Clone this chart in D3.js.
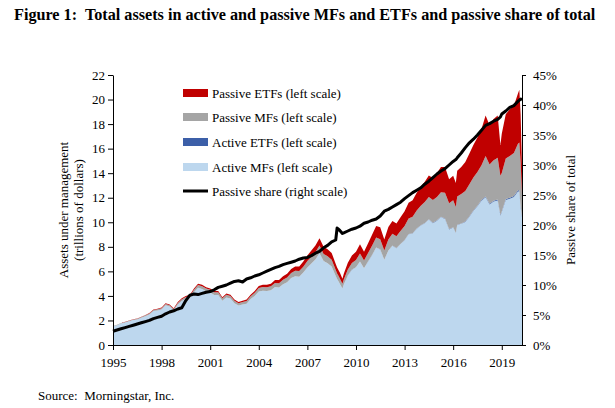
<!DOCTYPE html>
<html><head><meta charset="utf-8">
<script src="https://cdn.jsdelivr.net/npm/d3@7"></script>
<style>
html,body{margin:0;padding:0;background:#fff;}
text{font-family:"Liberation Serif","Times New Roman",serif;fill:#000;}
</style></head>
<body><svg id="c" width="615" height="408"></svg>
<script>
// ---- data (trillions of dollars; share in %) ----
const dates = ["1995-01","1995-04","1995-07","1995-10","1996-01","1996-04","1996-07","1996-10",
"1997-01","1997-04","1997-07","1997-10","1998-01","1998-04","1998-07","1998-10",
"1999-01","1999-04","1999-07","1999-10","2000-01","2000-04","2000-07","2000-10",
"2001-01","2001-04","2001-07","2001-10","2002-01","2002-04","2002-07","2002-10",
"2003-01","2003-04","2003-07","2003-10","2004-01","2004-04","2004-07","2004-10",
"2005-01","2005-04","2005-07","2005-10","2006-01","2006-04","2006-07","2006-10",
"2007-01","2007-04","2007-07","2007-10","2008-01","2008-04","2008-07","2008-10","2008-11","2008-12",
"2009-01","2009-03","2009-04","2009-07","2009-10","2010-01","2010-04","2010-07","2010-10",
"2011-01","2011-04","2011-07","2011-10","2012-01","2012-04","2012-07","2012-10",
"2013-01","2013-04","2013-07","2013-10","2014-01","2014-04","2014-07","2014-10",
"2015-01","2015-04","2015-07","2015-10","2016-01","2016-03","2016-04","2016-07","2016-10",
"2017-01","2017-04","2017-07","2017-10","2018-01","2018-04","2018-07","2018-10","2018-12",
"2019-01","2019-04","2019-07","2019-10","2020-01","2020-02","2020-03","2020-04"];

const activeMF = [1.51,1.61,1.75,1.84,1.93,2.03,2.08,2.22,
2.35,2.49,2.77,2.82,2.90,3.23,3.13,2.84,
3.31,3.59,3.77,3.85,4.30,4.67,4.57,4.38,
4.28,4.08,4.08,3.61,3.88,3.78,3.41,3.22,
3.30,3.37,3.74,4.00,4.36,4.43,4.40,4.46,
4.72,4.69,4.95,5.11,5.45,5.60,5.57,5.90,
6.32,6.65,6.97,7.48,6.84,6.66,6.40,5.62,5.37,5.19,
4.99,4.60,4.92,5.67,6.14,6.33,6.80,6.25,6.81,
7.34,7.94,7.79,6.94,7.69,8.09,7.89,8.22,
8.54,9.03,9.08,9.48,9.73,9.93,10.23,9.93,
10.13,10.43,10.27,9.42,9.57,9.12,9.77,9.87,10.02,
10.46,10.91,11.30,11.75,12.04,11.44,11.69,11.78,10.53,
10.83,11.82,11.92,12.06,12.50,12.50,11.20,10.40];

const activeETF = [0,0,0,0,0,0,0,0, 0,0,0,0,0,0,0,0, 0,0,0,0,0,0,0,0,
0,0,0,0,0,0,0,0, 0,0,0,0,0,0,0,0, 0,0,0,0,0,0,0,0,
0,0,0,0,0.005,0.005,0.005,0.005,0.005,0.005,
0.005,0.005,0.005,0.005,0.01,0.01,0.01,0.01,0.01,
0.01,0.01,0.01,0.01,0.015,0.015,0.015,0.015,
0.015,0.02,0.02,0.02,0.02,0.02,0.025,0.025,
0.025,0.025,0.03,0.03,0.03,0.03,0.03,0.035,0.035,
0.04,0.045,0.05,0.055,0.06,0.06,0.065,0.07,0.07,
0.075,0.08,0.085,0.09,0.1,0.1,0.1,0.1];

const passiveMF = [0.03,0.03,0.04,0.04,0.05,0.05,0.05,0.06,
0.07,0.08,0.09,0.09,0.10,0.11,0.11,0.10,
0.12,0.13,0.14,0.15,0.20,0.22,0.22,0.22,
0.22,0.22,0.22,0.20,0.22,0.22,0.20,0.19,
0.20,0.22,0.24,0.26,0.28,0.29,0.30,0.32,
0.34,0.35,0.37,0.39,0.42,0.44,0.45,0.48,
0.52,0.55,0.58,0.62,0.58,0.57,0.55,0.48,0.45,0.44,
0.43,0.38,0.42,0.48,0.53,0.58,0.65,0.62,0.68,
0.75,0.80,0.82,0.75,0.90,0.95,0.95,1.05,
1.15,1.25,1.35,1.45,1.60,1.70,1.80,1.85,
1.90,2.00,2.10,2.10,2.20,2.10,2.30,2.40,2.50,
2.60,2.70,2.75,2.85,3.30,3.20,3.30,3.40,3.20,
3.10,3.30,3.40,3.50,3.80,3.90,3.60,1.80];

const passiveETF = [0.01,0.01,0.01,0.02,0.02,0.02,0.02,0.02,
0.03,0.03,0.04,0.04,0.05,0.06,0.06,0.06,
0.07,0.08,0.09,0.10,0.10,0.11,0.11,0.10,
0.10,0.10,0.10,0.09,0.10,0.10,0.09,0.09,
0.10,0.11,0.12,0.14,0.16,0.18,0.20,0.22,
0.24,0.26,0.28,0.30,0.33,0.36,0.38,0.42,
0.46,0.50,0.55,0.60,0.58,0.57,0.55,0.50,0.48,0.47,
0.48,0.42,0.46,0.55,0.62,0.68,0.74,0.72,0.80,
0.90,0.95,0.98,0.90,1.00,1.05,1.05,1.12,
1.20,1.30,1.35,1.45,1.55,1.65,1.75,1.80,
1.95,2.05,2.10,1.95,2.00,1.95,2.10,2.20,2.35,
2.50,2.65,2.80,2.95,3.30,3.20,3.35,3.45,2.50,
3.20,3.60,3.80,3.85,4.10,4.30,3.90,2.20];

const passiveShare = [2.3,2.5,2.7,2.9,3.1,3.3,3.5,3.7,
3.9,4.1,4.4,4.6,4.8,5.2,5.5,5.7,
6.0,6.2,7.4,8.3,8.5,8.4,8.6,8.8,
8.9,9.2,9.6,9.8,10.0,10.3,10.6,10.7,
10.5,11.0,11.2,11.5,11.7,12.0,12.3,12.6,
12.9,13.1,13.4,13.6,13.8,14.0,14.3,14.5,
14.6,14.9,15.3,15.6,16.2,16.6,17.2,17.5,19.5,19.3,
19.1,18.6,18.7,19.0,19.3,19.5,19.8,20.3,20.5,
20.8,21.0,21.5,22.3,22.6,23.0,23.4,23.8,
24.4,24.9,25.4,25.8,26.2,26.8,27.3,27.9,
28.5,29.0,29.4,30.0,30.6,30.9,31.2,32.0,32.9,
33.7,34.3,35.0,35.8,36.6,36.9,37.3,37.6,38.0,
38.5,39.0,39.6,39.9,40.6,40.8,41.0,40.8];

const yearTicks = [1995,1998,2001,2004,2007,2010,2013,2016,2019];
const leftTicks = [0,2,4,6,8,10,12,14,16,18,20,22];
const rightTicks = [0,5,10,15,20,25,30,35,40,45];
const seriesKeys = ["activeMF","activeETF","passiveMF","passiveETF"];
const seriesNames = {passiveETF:"Passive ETFs (left scale)", passiveMF:"Passive MFs (left scale)",
  activeETF:"Active ETFs (left scale)", activeMF:"Active MFs (left scale)"};
const colors = {activeMF:"#BDD7EE", activeETF:"#3C5FA8", passiveMF:"#A5A5A5", passiveETF:"#C00000"};

// ---- chart ----
const svg = d3.select("#c");
const L = 113, R = 522, T = 75, B = 345;
const parse = d3.timeParse("%Y-%m");
const table = dates.map((d,i)=>({date:parse(d), activeMF:activeMF[i], activeETF:activeETF[i],
  passiveMF:passiveMF[i], passiveETF:passiveETF[i], share:passiveShare[i]}));

const x = d3.scaleTime().domain([new Date(1995,0,1), new Date(2020,3,1)]).range([L,R]);
const y = d3.scaleLinear().domain([0,22]).range([B,T]);
const y2 = d3.scaleLinear().domain([0,45]).range([B,T]);

const stacked = d3.stack().keys(seriesKeys)(table);
const area = d3.area().x(d=>x(d.data.date)).y0(d=>y(d[0])).y1(d=>y(d[1]));
svg.append("g").selectAll("path").data(stacked).join("path")
  .attr("d", area).attr("fill", d=>colors[d.key]).attr("stroke", "none");

const line = d3.line().x(d=>x(d.date)).y(d=>y2(d.share));
svg.append("path").datum(table).attr("d", line).attr("fill","none")
  .attr("stroke","#000").attr("stroke-width",3).attr("stroke-linejoin","round");

// axes
const fs = "13px";
const ax = svg.append("g").attr("transform",`translate(0,${B})`)
  .call(d3.axisBottom(x).tickValues(yearTicks.map(yr=>new Date(yr,0,1)))
  .tickFormat(d3.timeFormat("%Y")).tickSize(5).tickPadding(8).tickSizeOuter(0));
const ay = svg.append("g").attr("transform",`translate(${L},0)`)
  .call(d3.axisLeft(y).tickValues(leftTicks).tickSize(5).tickPadding(3).tickSizeOuter(0));
const ay2 = svg.append("g").attr("transform",`translate(${R},0)`)
  .call(d3.axisRight(y2).tickValues(rightTicks).tickFormat(d=>d+"%").tickSize(4).tickPadding(7).tickSizeOuter(0));
[ax,ay,ay2].forEach(g=>{
  g.attr("font-family",null).attr("font-size",null);
  g.selectAll("text").style("font-size",fs);
  g.selectAll("line,path").attr("stroke","#000");
});

// axis titles
svg.append("text").attr("transform","translate(63,210) rotate(-90)").attr("text-anchor","middle")
  .attr("dy","0.35em").style("font-size",fs).text("Assets under management");
svg.append("text").attr("transform","translate(78,210) rotate(-90)").attr("text-anchor","middle")
  .attr("dy","0.35em").style("font-size",fs).text("(trillions of dollars)");
svg.append("text").attr("transform","translate(570,210) rotate(-90)").attr("text-anchor","middle")
  .attr("dy","0.35em").style("font-size",fs).text("Passive share of total");

// legend
const legendKeys = ["passiveETF","passiveMF","activeETF","activeMF"];
const legY = [93,117,142,167];
legendKeys.forEach((k,i)=>{
  svg.append("rect").attr("x",183).attr("y",legY[i]-4).attr("width",25).attr("height",8).attr("fill",colors[k]);
  svg.append("text").attr("x",212).attr("y",legY[i]).attr("dy","0.35em").style("font-size",fs).text(seriesNames[k]);
});
svg.append("line").attr("x1",183).attr("x2",208).attr("y1",191).attr("y2",191).attr("stroke","#000").attr("stroke-width",3);
svg.append("text").attr("x",212).attr("y",191).attr("dy","0.35em").style("font-size",fs).text("Passive share (right scale)");

// title & source
svg.append("text").attr("x",14).attr("y",20).style("font-size","16.2px").style("font-weight","bold")
  .text("Figure 1:\u00a0 Total assets in active and passive MFs and ETFs and passive share of total");
svg.append("text").attr("x",38).attr("y",400).style("font-size",fs)
  .text("Source:\u00a0 Morningstar, Inc.");
</script></body></html>
